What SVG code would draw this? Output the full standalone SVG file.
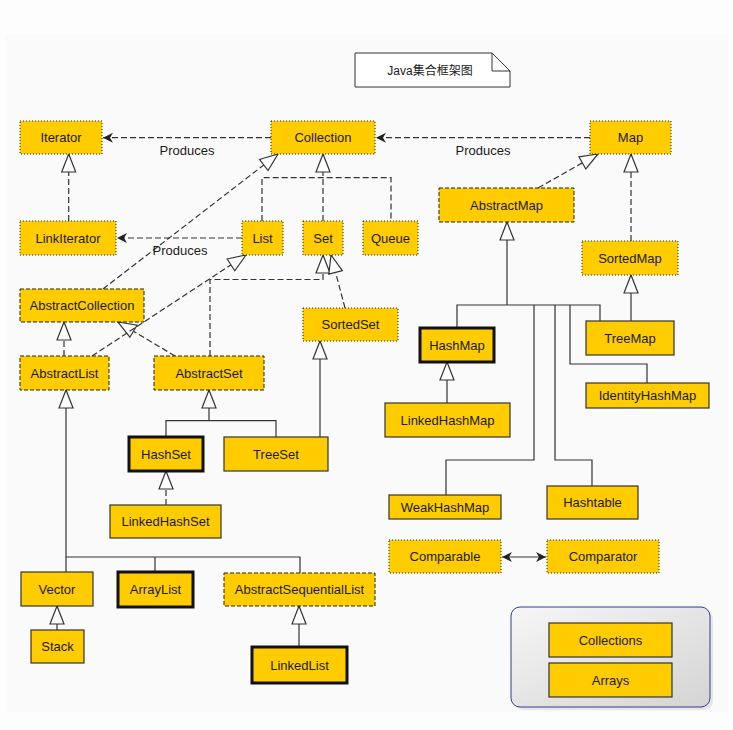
<svg xmlns="http://www.w3.org/2000/svg" width="733" height="730" viewBox="0 0 733 730">
<defs>
<style>
.n rect{fill:#ffcc00}
.dot{stroke:#222;stroke-width:1;stroke-dasharray:1 2}
.dash{stroke:#222;stroke-width:1;stroke-dasharray:4 2}
.sol{stroke:#333;stroke-width:1.2}
.thick{stroke:#111;stroke-width:3}
text{font-family:"Liberation Sans",Arial,sans-serif;font-size:13px;fill:#1a1a1a;text-anchor:middle}
.c path{fill:none;stroke:#333;stroke-width:1.2}
.c .d{stroke-dasharray:6 3}
</style>
<marker id="tri" markerUnits="userSpaceOnUse" markerWidth="20" markerHeight="16" refX="18" refY="7" orient="auto" overflow="visible">
<path d="M0,0 L18,7 L0,14 z" fill="#fff" stroke="#333" stroke-width="1.2"/>
</marker>
<marker id="arr" markerUnits="userSpaceOnUse" markerWidth="12" markerHeight="12" refX="10" refY="5" orient="auto-start-reverse" overflow="visible">
<path d="M0,0 L10,5 L0,10 L3,5 z" fill="#222"/>
</marker>
<linearGradient id="grp" x1="0" y1="0" x2="1" y2="1">
<stop offset="0" stop-color="#f6f6f6"/>
<stop offset="1" stop-color="#d4d4d4"/>
</linearGradient>
</defs>
<rect width="733" height="730" fill="#fdfdfd"/>
<rect x="5" y="35" width="723" height="677" fill="#fafafa"/>

<g id="title">
<path d="M355,53 L492,53 L510,71 L510,87 L355,87 z" fill="#fff" stroke="#333" stroke-width="1"/>
<path d="M492,53 L492,71 L510,71" fill="none" stroke="#333" stroke-width="1"/>
<text x="430" y="75" style="font-size:12px;font-family:'Liberation Sans','Noto Sans CJK SC',sans-serif">Java集合框架图</text>
</g>

<g class="c" id="connectors">
<path class="d" d="M271,137.7 L103,137.7" marker-end="url(#arr)"/>
<path class="d" d="M590,137.7 L376,137.7" marker-end="url(#arr)"/>
<path class="d" d="M242,238 L117,238" marker-end="url(#arr)"/>
<path class="d" d="M68.7,221 L68.7,154" marker-end="url(#tri)"/>
<path class="d" d="M262,221 V177.7 H391 V221"/>
<path class="d" d="M323,221 V154" marker-end="url(#tri)"/>
<path class="d" d="M103,289 L278,154" marker-end="url(#tri)"/>
<path class="d" d="M538,188 L598,154" marker-end="url(#tri)"/>
<path class="d" d="M631,241 V154" marker-end="url(#tri)"/>
<path class="d" d="M64,356 V322" marker-end="url(#tri)"/>
<path class="d" d="M175,356 L118,322" marker-end="url(#tri)"/>
<path class="d" d="M92,356 L246,255" marker-end="url(#tri)"/>
<path class="d" d="M210,356 V279.5 H323 V255" marker-end="url(#tri)"/>
<path class="d" d="M345,308 L331,255" marker-end="url(#tri)"/>
<path d="M507,305 V222" marker-end="url(#tri)"/>
<path d="M457,328 V305 H600 V321"/>
<path d="M534,305 V460 H446 V495"/>
<path d="M555,305 V460 H592 V486"/>
<path d="M570,305 V364 H647 V383"/>
<path d="M447,403 V362" marker-end="url(#tri)"/>
<path d="M631,321 V275" marker-end="url(#tri)"/>
<path d="M209,420.7 V390" marker-end="url(#tri)"/>
<path d="M166,437 V420.7 H276 V437"/>
<path d="M320,437 V341" marker-end="url(#tri)"/>
<path class="d" d="M166,505 V471" marker-end="url(#tri)"/>
<path d="M66,572 V390" marker-end="url(#tri)"/>
<path d="M66,557 H300 V573"/>
<path d="M155,557 V572"/>
<path d="M57,630 V606" marker-end="url(#tri)"/>
<path d="M299,647 V606" marker-end="url(#tri)"/>
<path d="M502,557 L546,557" marker-start="url(#arr)" marker-end="url(#arr)"/>
</g>
<g id="labels">
<text x="187" y="155">Produces</text>
<text x="483" y="155">Produces</text>
<text x="180" y="255">Produces</text>
</g>

<g class="n" id="Iterator"><rect class="dot" x="20" y="121" width="82" height="33"/><text x="61" y="142">Iterator</text></g>
<g class="n" id="Collection"><rect class="dot" x="271" y="121" width="104" height="33"/><text x="323" y="142">Collection</text></g>
<g class="n" id="Map"><rect class="dot" x="590" y="121" width="81" height="33"/><text x="630.5" y="142">Map</text></g>
<g class="n" id="LinkIterator"><rect class="dot" x="20" y="221" width="96" height="34"/><text x="68" y="243">LinkIterator</text></g>
<g class="n" id="List"><rect class="dot" x="242" y="221" width="41" height="34"/><text x="262.5" y="243">List</text></g>
<g class="n" id="Set"><rect class="dot" x="303" y="221" width="40" height="34"/><text x="323" y="243">Set</text></g>
<g class="n" id="Queue"><rect class="dot" x="363" y="221" width="55" height="34"/><text x="390.5" y="243">Queue</text></g>
<g class="n" id="AbstractMap"><rect class="dash" x="439" y="188" width="135" height="34"/><text x="506.5" y="210">AbstractMap</text></g>
<g class="n" id="SortedMap"><rect class="dot" x="582" y="241" width="96" height="34"/><text x="630" y="263">SortedMap</text></g>
<g class="n" id="AbstractCollection"><rect class="dash" x="20" y="289" width="124" height="33"/><text x="82" y="310">AbstractCollection</text></g>
<g class="n" id="SortedSet"><rect class="dot" x="303" y="308" width="95" height="33"/><text x="350.5" y="329">SortedSet</text></g>
<g class="n" id="HashMap"><rect class="thick" x="420" y="328" width="74" height="34"/><text x="457" y="350">HashMap</text></g>
<g class="n" id="TreeMap"><rect class="sol" x="586" y="321" width="88" height="34"/><text x="630" y="343">TreeMap</text></g>
<g class="n" id="AbstractList"><rect class="dash" x="20" y="356" width="89" height="34"/><text x="64.5" y="378">AbstractList</text></g>
<g class="n" id="AbstractSet"><rect class="dash" x="154" y="356" width="110" height="34"/><text x="209" y="378">AbstractSet</text></g>
<g class="n" id="IdentityHashMap"><rect class="sol" x="586" y="383" width="123" height="25"/><text x="647.5" y="400">IdentityHashMap</text></g>
<g class="n" id="LinkedHashMap"><rect class="sol" x="385" y="403" width="125" height="34"/><text x="447.5" y="425">LinkedHashMap</text></g>
<g class="n" id="HashSet"><rect class="thick" x="129" y="437" width="74" height="34"/><text x="166" y="459">HashSet</text></g>
<g class="n" id="TreeSet"><rect class="sol" x="224" y="437" width="104" height="34"/><text x="276" y="459">TreeSet</text></g>
<g class="n" id="WeakHashMap"><rect class="sol" x="389" y="495" width="112" height="24"/><text x="445" y="512">WeakHashMap</text></g>
<g class="n" id="Hashtable"><rect class="sol" x="547" y="486" width="91" height="33"/><text x="592.5" y="507">Hashtable</text></g>
<g class="n" id="LinkedHashSet"><rect class="sol" x="110" y="505" width="111" height="33"/><text x="165.5" y="526">LinkedHashSet</text></g>
<g class="n" id="Comparable"><rect class="dot" x="389" y="540" width="112" height="33"/><text x="445" y="561">Comparable</text></g>
<g class="n" id="Comparator"><rect class="dot" x="547" y="540" width="112" height="33"/><text x="603" y="561">Comparator</text></g>
<g class="n" id="Vector"><rect class="sol" x="21" y="572" width="72" height="34"/><text x="57" y="594">Vector</text></g>
<g class="n" id="ArrayList"><rect class="thick" x="118" y="572" width="75" height="35"/><text x="155.5" y="594">ArrayList</text></g>
<g class="n" id="AbstractSequentialList"><rect class="dash" x="224" y="573" width="151" height="33"/><text x="299.5" y="594">AbstractSequentialList</text></g>
<g class="n" id="Stack"><rect class="sol" x="31" y="630" width="53" height="33"/><text x="57.5" y="651">Stack</text></g>
<g class="n" id="LinkedList"><rect class="thick" x="252" y="647" width="95" height="36"/><text x="299.5" y="670">LinkedList</text></g>

<g id="utilities">
<rect x="514" y="610" width="199" height="100" rx="9" fill="#d8d8d8" opacity="0.6"/>
<rect x="511" y="607" width="199" height="100" rx="9" fill="url(#grp)" stroke="#2a3f8f" stroke-width="1"/>
<g class="n" id="Collections"><rect class="sol" x="549" y="623" width="123" height="34"/><text x="610.5" y="645">Collections</text></g>
<g class="n" id="Arrays"><rect class="sol" x="549" y="663" width="123" height="34"/><text x="610.5" y="685">Arrays</text></g>
</g>
</svg>
